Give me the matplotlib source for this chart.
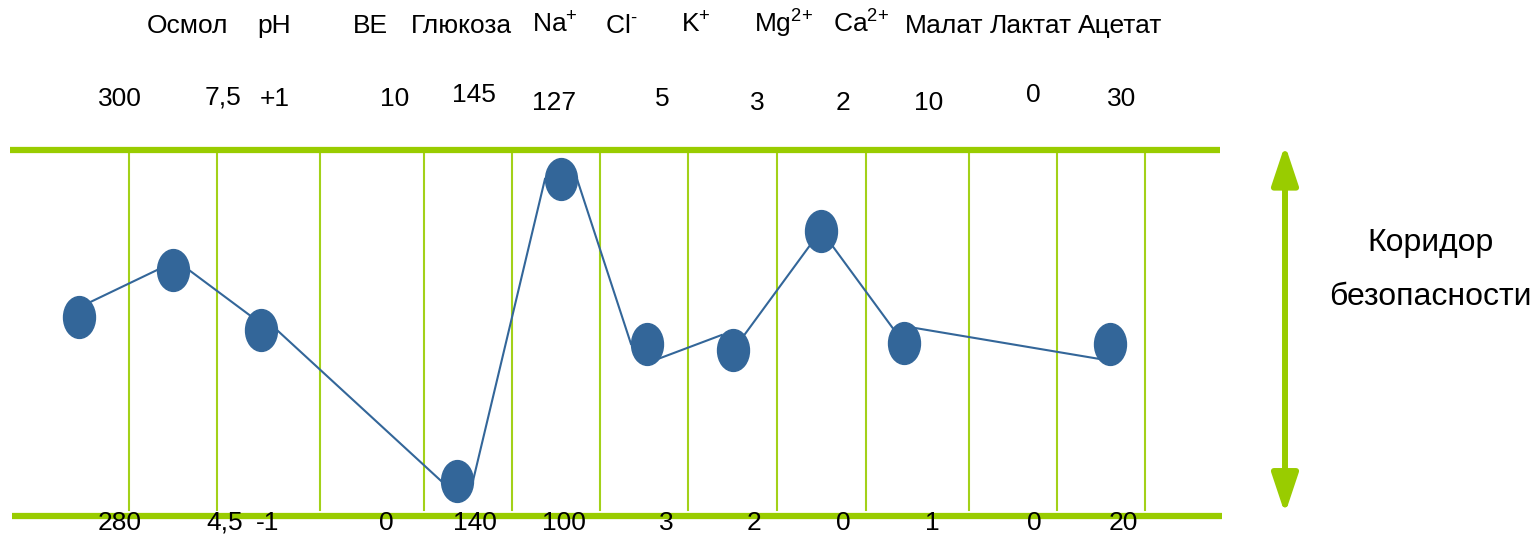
import matplotlib
matplotlib.use('Agg')
import matplotlib.pyplot as plt
from matplotlib.markers import MarkerStyle
from matplotlib.transforms import Affine2D
from matplotlib.patches import FancyArrowPatch

plt.rcParams['font.family'] = ['Liberation Sans', 'DejaVu Sans']
plt.rcParams['mathtext.fontset'] = 'custom'
plt.rcParams['mathtext.rm'] = 'Liberation Sans'
plt.rcParams['mathtext.default'] = 'regular'

# названия параметров и границы коридора
names = ['Осмол', 'pH', 'BE', 'Глюкоза', 'Na$^{{+}}$', 'Cl$^{\\text{-}}$', 'K$^{{+}}$',
         'Mg$^{2{+}}$', 'Ca$^{2{+}}$', 'Малат', 'Лактат', 'Ацетат']
name_x = [188, 274, 370, 461, 555, 621, 696, 784, 861, 944, 1031, 1120]

upper = ['300', '7,5', '+1', '10', '145', '127', '5', '3', '2', '10', '0', '30']
upper_x = [120, 223, 275, 395, 474, 554, 662, 757, 843, 929, 1033, 1122]
upper_dy = [0, 0.5, 0, 0, 1.2, -1.2, 0, -1, -1, -1, 1.2, 0]

lower = ['280', '4,5', '-1', '0', '140', '100', '3', '2', '0', '1', '0', '20']
lower_x = [120, 225, 268, 386, 475, 564, 666, 754, 843, 932, 1034, 1123]

# разделители колонок
sep_x = [129, 217, 320, 424, 512, 600, 688, 777, 866, 969, 1057, 1145]

# положение раствора внутри коридора (0 - нижняя граница, 100 - верхняя)
pt_x = [79, 173, 261, 457, 561, 647, 733, 821, 904, 1110]
pt_y = [54.4, 67.2, 50.8, 9.6, 92.1, 47.0, 45.4, 77.9, 47.3, 47.0]

# точки крепления соединительных линий на краях эллипсов
conn_from = ['NE', 'E', 'E', 'E', 'E', 'SE', 'NE', 'SE', 'NE']
conn_to = ['W', 'NW', 'W', 'W', 'W', 'NW', 'SW', 'NW', 'SW']

green = '#99cc00'
blue = '#336699'

fig = plt.figure(figsize=(15.35, 5.34), dpi=100)
ax = fig.add_axes([0, 0, 1, 1])
ax.set_xlim(0, 1535)
ax.set_ylim(-4.92, 140.98)
ax.axis('off')

# коридор
ax.plot([10, 1220], [100, 100], color=green, lw=4.5, solid_capstyle='butt')
ax.plot([12, 1222], [0, 0], color=green, lw=4.5, solid_capstyle='butt')
for x in sep_x:
    ax.plot([x, x], [1.6, 100], color=green, lw=1.5, alpha=0.9)

# полуоси эллипса в единицах данных
rx, ry = 16, 21 / 3.66
d = 0.7071
off = {'E': (rx, 0), 'W': (-rx, 0), 'NE': (rx * d, ry * d), 'NW': (-rx * d, ry * d),
       'SE': (rx * d, -ry * d), 'SW': (-rx * d, -ry * d)}
for i in range(len(pt_x) - 1):
    a, b = off[conn_from[i]], off[conn_to[i]]
    ax.plot([pt_x[i] + a[0], pt_x[i + 1] + b[0]], [pt_y[i] + a[1], pt_y[i + 1] + b[1]],
            color=blue, lw=1.5, zorder=3)

ell = MarkerStyle('o', transform=Affine2D().scale(1, 1.31))
ax.plot(pt_x, pt_y, ls='none', marker=ell, ms=23, color=blue, zorder=4)

# подписи
for n, x in zip(names, name_x):
    ax.text(x, 132, n, ha='center', va='baseline', fontsize=19)
for v, x, dy in zip(upper, upper_x, upper_dy):
    ax.text(x, 112 + dy, v, ha='center', va='baseline', fontsize=19)
for v, x in zip(lower, lower_x):
    ax.text(x, -3.8, v, ha='center', va='baseline', fontsize=19, zorder=5)

# стрелка коридора
arr = FancyArrowPatch((1285, 0.6), (1285, 101.4),
                      arrowstyle='<|-|>,head_length=24,head_width=8',
                      mutation_scale=1, color=green, lw=4.3, shrinkA=0, shrinkB=0)
ax.add_patch(arr)
ax.text(1431, 74.6, 'Коридор', ha='center', va='center', fontsize=23)
ax.text(1430, 59.8, 'безопасности', ha='center', va='center', fontsize=23)

fig.savefig('out.png', dpi=100)
